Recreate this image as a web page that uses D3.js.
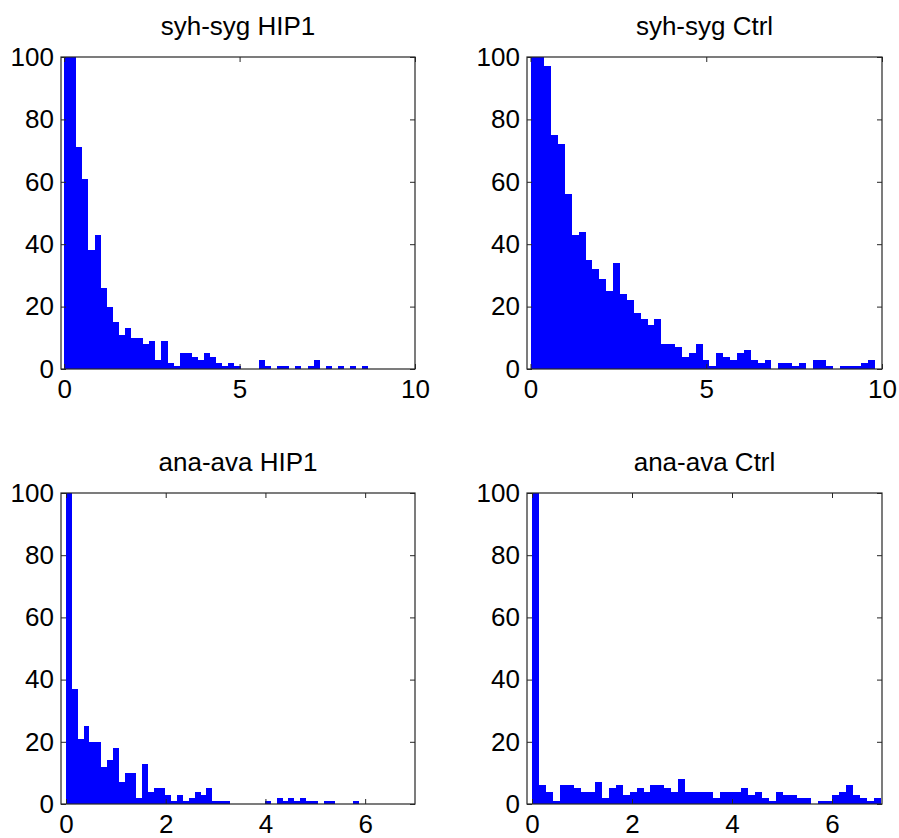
<!DOCTYPE html>
<html>
<head>
<meta charset="utf-8">
<script src="https://cdn.jsdelivr.net/npm/d3@7"></script>
<style>
  html, body { margin: 0; padding: 0; background: #fff; }
  svg { display: block; }
</style>
</head>
<body>
<script>
// ---------------- data ----------------
const titles = ["syh-syg HIP1", "syh-syg Ctrl", "ana-ava HIP1", "ana-ava Ctrl"];

// 50-bin histogram counts (first bins exceed the 100 axis limit and are clipped)
const countsSyhHIP1 = [150,110,71,61,38,43,26,20,15,11,13,10,10,8,9,3,9,2,1,5,
                       5,4,3,5,4,2,1,2,1,0,0,0,3,1,0,1,1,0,1,0,
                       1,3,0,1,0,1,0,1,0,1];
const countsSyhCtrl = [130,105,97,75,72,56,43,44,35,32,29,25,34,24,22,18,16,14,16,8,
                       8,7,4,5,8,3,1,5,4,3,5,6,3,2,3,0,2,2,1,2,
                       0,3,3,1,0,1,1,1,2,3];
const countsAnaHIP1 = [150,37,21,25,20,20,12,14,18,7,10,10,2,13,4,5,5,3,1,3,
                       1,2,4,3,5,1,1,1,0,0,0,0,0,0,1,0,2,1,2,1,
                       2,1,1,0,1,1,0,0,0,1];
const countsAnaCtrl = [300,6,4,1,6,6,5,4,4,7,2,5,6,3,4,5,4,6,6,5,
                       4,8,4,4,4,4,2,4,4,4,5,3,4,2,1,4,3,3,2,2,
                       0,1,1,3,4,6,3,2,1,2];

// upper edge of the binned data range (lower edge is 0)
const binMax = [8.67, 9.79, 5.87, 6.97];
// x axis limits
const xMin = [-0.09, -0.1, -0.1, -0.1];
const xMax = [10, 10, 7, 7];
const xTicksSyh = [0, 5, 10];
const xTicksAna = [0, 2, 4, 6];
const yTicks = [0, 20, 40, 60, 80, 100];
const yMax = 100;

const counts = [countsSyhHIP1, countsSyhCtrl, countsAnaHIP1, countsAnaCtrl];
const xTicks = [xTicksSyh, xTicksSyh, xTicksAna, xTicksAna];

// ---------------- layout ----------------
const W = 899, H = 838;
const boxes = [
  {x: 61,  y: 57,  w: 354, h: 312},
  {x: 527, y: 57,  w: 355, h: 312},
  {x: 61,  y: 493, w: 354, h: 311},
  {x: 527, y: 493, w: 355, h: 311}
];
const FONT = "'Liberation Sans', Arial, Helvetica, sans-serif";
const FS = 26;
const axisColor = "#262626";
const barColor = "#0000ff";

const svg = d3.select("body").append("svg")
  .attr("width", W).attr("height", H)
  .attr("viewBox", `0 0 ${W} ${H}`);
svg.append("rect").attr("width", W).attr("height", H).attr("fill", "#fff");

boxes.forEach((b, p) => {
  const g = svg.append("g").attr("transform", `translate(${b.x},${b.y})`);
  const x = d3.scaleLinear().domain([xMin[p], xMax[p]]).range([0, b.w]);
  const y = d3.scaleLinear().domain([0, yMax]).range([b.h, 0]).clamp(true);

  const data = counts[p];
  const bw = binMax[p] / data.length;

  // bars
  g.append("g")
    .attr("shape-rendering", "crispEdges")
    .selectAll("rect")
    .data(data)
    .join("rect")
    .attr("x", (d, i) => x(i * bw))
    .attr("width", (d, i) => x((i + 1) * bw) - x(i * bw))
    .attr("y", d => y(d))
    .attr("height", d => b.h - y(d))
    .attr("fill", barColor);

  // axes (ticks pointing inward, MATLAB style)
  const tickLen = 5;
  const ax = g.append("g").attr("transform", `translate(0,${b.h})`)
    .call(d3.axisBottom(x).tickValues(xTicks[p]).tickSize(-tickLen).tickPadding(11).tickFormat(d3.format("d")));
  const axTop = g.append("g")
    .call(d3.axisTop(x).tickValues(xTicks[p]).tickSize(-tickLen).tickFormat(""));
  const ay = g.append("g")
    .call(d3.axisLeft(y).tickValues(yTicks).tickSize(-tickLen).tickPadding(7).tickFormat(d3.format("d")));
  const ayR = g.append("g").attr("transform", `translate(${b.w},0)`)
    .call(d3.axisRight(y).tickValues(yTicks).tickSize(-tickLen).tickFormat(""));

  [ax, axTop, ay, ayR].forEach(a => {
    a.select(".domain").remove();
    a.selectAll(".tick line").attr("stroke", axisColor).attr("stroke-width", 1);
    a.selectAll(".tick text")
      .attr("fill", "#000")
      .style("font-family", FONT)
      .style("font-size", FS + "px");
  });

  // box
  g.append("rect")
    .attr("x", 0).attr("y", 0).attr("width", b.w).attr("height", b.h)
    .attr("fill", "none").attr("stroke", axisColor).attr("stroke-width", 1.2);

  // title
  g.append("text")
    .attr("x", b.w / 2).attr("y", -22)
    .attr("text-anchor", "middle")
    .style("font-family", FONT)
    .style("font-size", FS + "px")
    .attr("fill", "#000")
    .text(titles[p]);
});
</script>
</body>
</html>
